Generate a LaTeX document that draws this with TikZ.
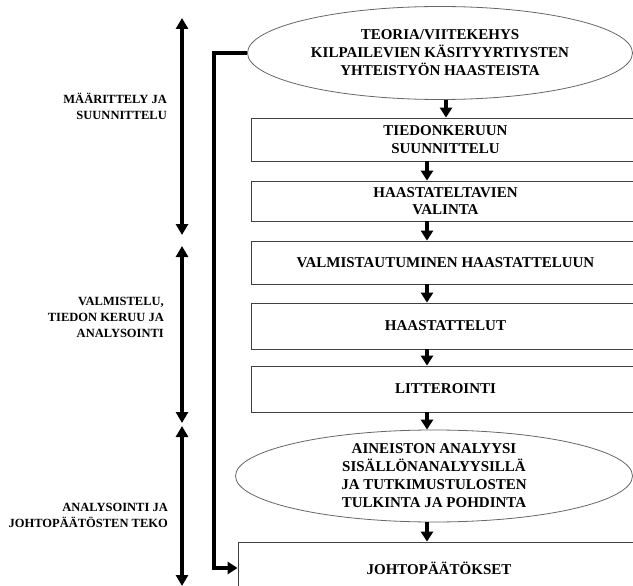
\documentclass[tikz,border=0pt]{standalone}
\usepackage{fontspec}
\setmainfont{Liberation Serif}
\usetikzlibrary{shapes.geometric,arrows.meta}

\tikzstyle{box} = [draw=black!75,line width=0.8pt,rectangle,inner sep=0pt,align=center,font=\fontsize{15}{17.5}\selectfont\bfseries]
\tikzstyle{oval} = [draw=black!60,line width=0.8pt,ellipse,inner xsep=0pt,inner ysep=-4pt,align=center,font=\fontsize{15}{18}\selectfont\bfseries]
\tikzstyle{phase} = [anchor=east,align=right,inner sep=0pt,font=\fontsize{12.5}{16}\selectfont\bfseries]
\tikzstyle{line} = [draw,-{Triangle[width=12pt,length=10pt]},line width=3.6pt]
\tikzstyle{span} = [draw,{Triangle[width=12pt,length=11pt]}-{Triangle[width=12pt,length=11pt]},line width=4pt]

\begin{document}
\begin{tikzpicture}[x=1pt,y=-1pt]
\useasboundingbox (0,0) rectangle (633,586);
\clip (0,0) rectangle (633,586);
\node[oval,minimum width=385pt,minimum height=93pt] (teoria) at (440,53) {TEORIA/VIITEKEHYS\\KILPAILEVIEN KÄSITYYRTIYSTEN\\YHTEISTYÖN HAASTEISTA};
\node[box,minimum width=389pt,minimum height=43pt] (suunnittelu) at (445.5,139.5) {TIEDONKERUUN\\SUUNNITTELU};
\node[box,minimum width=389pt,minimum height=40pt] (valinta) at (445.5,201) {HAASTATELTAVIEN\\VALINTA};
\node[box,minimum width=389pt,minimum height=43pt] (valmistautuminen) at (445.5,262.5) {VALMISTAUTUMINEN HAASTATTELUUN};
\node[box,minimum width=389pt,minimum height=46pt] (haastattelut) at (445.5,326) {HAASTATTELUT};
\node[box,minimum width=389pt,minimum height=46pt] (litterointi) at (445.5,389) {LITTEROINTI};
\node[oval,minimum width=397pt,minimum height=92pt] (analyysi) at (434,476) {AINEISTON ANALYYSI\\SISÄLLÖNANALYYSILLÄ\\JA TUTKIMUSTULOSTEN\\TULKINTA JA POHDINTA};
\node[box,minimum width=402pt,minimum height=52pt] (johtopaatokset) at (439,568) {JOHTOPÄÄTÖKSET};

% phases on the left
\node[phase] (maarittely) at (167,106.5) {MÄÄRITTELY JA\\SUUNNITTELU};
\node[phase] (valmistelu) at (164,317) {VALMISTELU,\\TIEDON KERUU JA\\ANALYSOINTI};
\node[phase] (analysointi) at (168,515) {ANALYSOINTI JA\\JOHTOPÄÄTÖSTEN TEKO};
\coordinate (m1) at (182,18);
\coordinate (m2) at (182,235);
\coordinate (m3) at (182,246);
\coordinate (m4) at (182,423);
\coordinate (m5) at (182,426);
\coordinate (m6) at (182,586);
\draw[span] (m1) -- (m2);
\draw[span] (m3) -- (m4);
\draw[span] (m5) -- (m6);

% flow
\coordinate (a1) at (446,0);
\coordinate (ax) at (427,0);
\draw[line] (teoria.south -| a1) -- (suunnittelu.north -| a1);
\draw[line] (suunnittelu.south -| ax) -- (valinta.north -| ax);
\draw[line] (valinta.south -| ax) -- (valmistautuminen.north -| ax);
\draw[line] (valmistautuminen.south -| ax) -- (haastattelut.north -| ax);
\draw[line] (haastattelut.south -| ax) -- (litterointi.north -| ax);
\draw[line] (litterointi.south -| ax) -- (analyysi.north -| ax);
\draw[line] (analyysi.south -| ax) -- (johtopaatokset.north -| ax);
\draw[line] (teoria.west) -- ++(-33,0) |- (johtopaatokset.west);
\end{tikzpicture}
\end{document}
